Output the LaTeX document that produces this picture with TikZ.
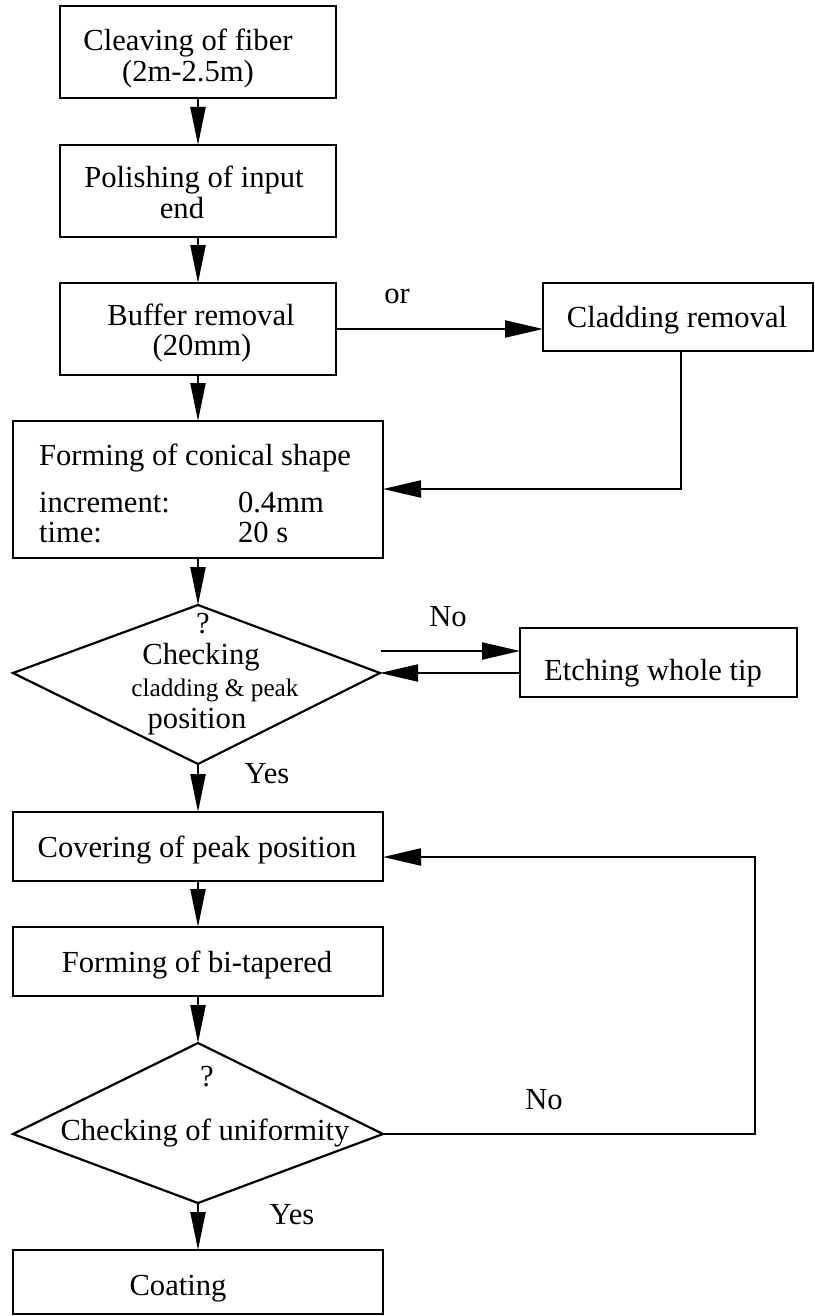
\documentclass[tikz,border=0pt]{standalone}
\usepackage{fontspec}
\setmainfont{Liberation Serif}
\usetikzlibrary{arrows.meta}
\begin{document}
\begin{tikzpicture}[x=1pt,y=-1pt,
  box/.style={draw,line width=2.2pt,inner sep=0pt,outer sep=0pt,rectangle},
  lbl/.style={inner sep=0pt,outer sep=0pt,anchor=base,font=\fontsize{30.6}{32}\selectfont},
  lblw/.style={lbl,anchor=base west},
  small/.style={lbl,font=\fontsize{25.3}{27}\selectfont},
  conn/.style={line width=2.2pt},
  arr/.style={conn,-{Triangle[length=38pt,width=15pt]}},
  harr/.style={conn,-{Triangle[length=38pt,width=17pt]}}]
\useasboundingbox (0,0) rectangle (814,1316);

% boxes
\node[box,minimum width=276pt,minimum height=92pt] (b1) at (198,52) {};
\node[box,minimum width=276pt,minimum height=92pt] (b2) at (198,191) {};
\node[box,minimum width=276pt,minimum height=92pt] (b3) at (198,329) {};
\node[box,minimum width=270pt,minimum height=68pt] (clad) at (678,317) {};
\node[box,minimum width=370pt,minimum height=137pt] (b4) at (198,489.5) {};
\node[box,minimum width=277pt,minimum height=69pt] (etch) at (658.5,662.5) {};
\node[box,minimum width=370pt,minimum height=69pt] (cov) at (198,846.5) {};
\node[box,minimum width=370pt,minimum height=69pt] (bt) at (198,961.5) {};
\node[box,minimum width=370pt,minimum height=64pt] (coat) at (198,1282) {};

% decision kites
\coordinate (d1t) at (198,605);
\coordinate (d1l) at (13,673);
\coordinate (d1r) at (380,673);
\coordinate (d1b) at (198,764);
\draw[line width=2.2pt,line join=miter] (d1t) -- (d1r) -- (d1b) -- (d1l) -- cycle;
\coordinate (d2t) at (198,1043);
\coordinate (d2l) at (13,1134);
\coordinate (d2r) at (383,1134);
\coordinate (d2b) at (198,1203);
\draw[line width=2.2pt,line join=miter] (d2t) -- (d2r) -- (d2b) -- (d2l) -- cycle;

% texts
\node[lbl] (t1a) at (188,51) {Cleaving of fiber};
\node[lbl] (t1b) at (188,82) {(2m-2.5m)};
\node[lbl] (t2a) at (194,188) {Polishing of input};
\node[lbl] (t2b) at (182,218) {end};
\node[lbl] (t3a) at (201,325) {Buffer removal};
\node[lbl] (t3b) at (202,355) {(20mm)};
\node[lbl] (tor) at (397,303) {or};
\node[lbl] (tclad) at (677,327) {Cladding removal};
\node[lblw] (t4a) at (39,465) {Forming of conical shape};
\node[lblw] (t4b) at (39,512) {increment:};
\node[lblw] (t4bv) at (238,512) {0.4mm};
\node[lblw] (t4c) at (39,542) {time:};
\node[lblw] (t4cv) at (238,542) {20 s};
\node[lbl] (q1) at (203,633) {?};
\node[lbl] (d1a) at (201,664) {Checking};
\node[small] (d1bt) at (215,696) {cladding \& peak};
\node[lbl] (d1c) at (197,728) {position};
\node[lbl] (no1) at (448,626) {No};
\node[lbl] (tetch) at (653,680) {Etching whole tip};
\node[lbl] (yes1) at (267,783) {Yes};
\node[lbl] (tcov) at (197,857) {Covering of peak position};
\node[lbl] (tbt) at (197,972) {Forming of bi-tapered};
\node[lbl] (q2) at (207,1086) {?};
\node[lbl] (d2a) at (205,1140) {Checking of uniformity};
\node[lbl] (no2) at (544,1109) {No};
\node[lbl] (yes2) at (292,1224) {Yes};
\node[lbl] (tcoat) at (178,1295) {Coating};

% connectors
\draw[arr] (b1) -- (b2);
\draw[arr] (b2) -- (b3);
\draw[arr] (b3.south) -- (b3.south |- b4.north);
\draw[harr] (b3.east) -- (b3.east -| clad.west);
\coordinate (cdrop) at (681,489);
\draw[harr] (clad.south -| cdrop) -- (cdrop) -- (cdrop -| b4.east);
\draw[arr] (b4.south) -- (d1t);
\coordinate (n1) at (381,651);
\draw[harr] (n1) -- (n1 -| etch.west);
\draw[harr] (etch.west |- d1r) -- (d1r);
\draw[arr] (d1b) -- (cov.north);
\draw[arr] (cov) -- (bt);
\draw[arr] (bt.south) -- (d2t);
\coordinate (loopc) at (755,1134);
\coordinate (loopt) at (755,857);
\draw[harr] (d2r) -- (loopc) -- (loopt) -- (loopt -| cov.east);
\draw[arr] (d2b) -- (coat.north);
\end{tikzpicture}
\end{document}
